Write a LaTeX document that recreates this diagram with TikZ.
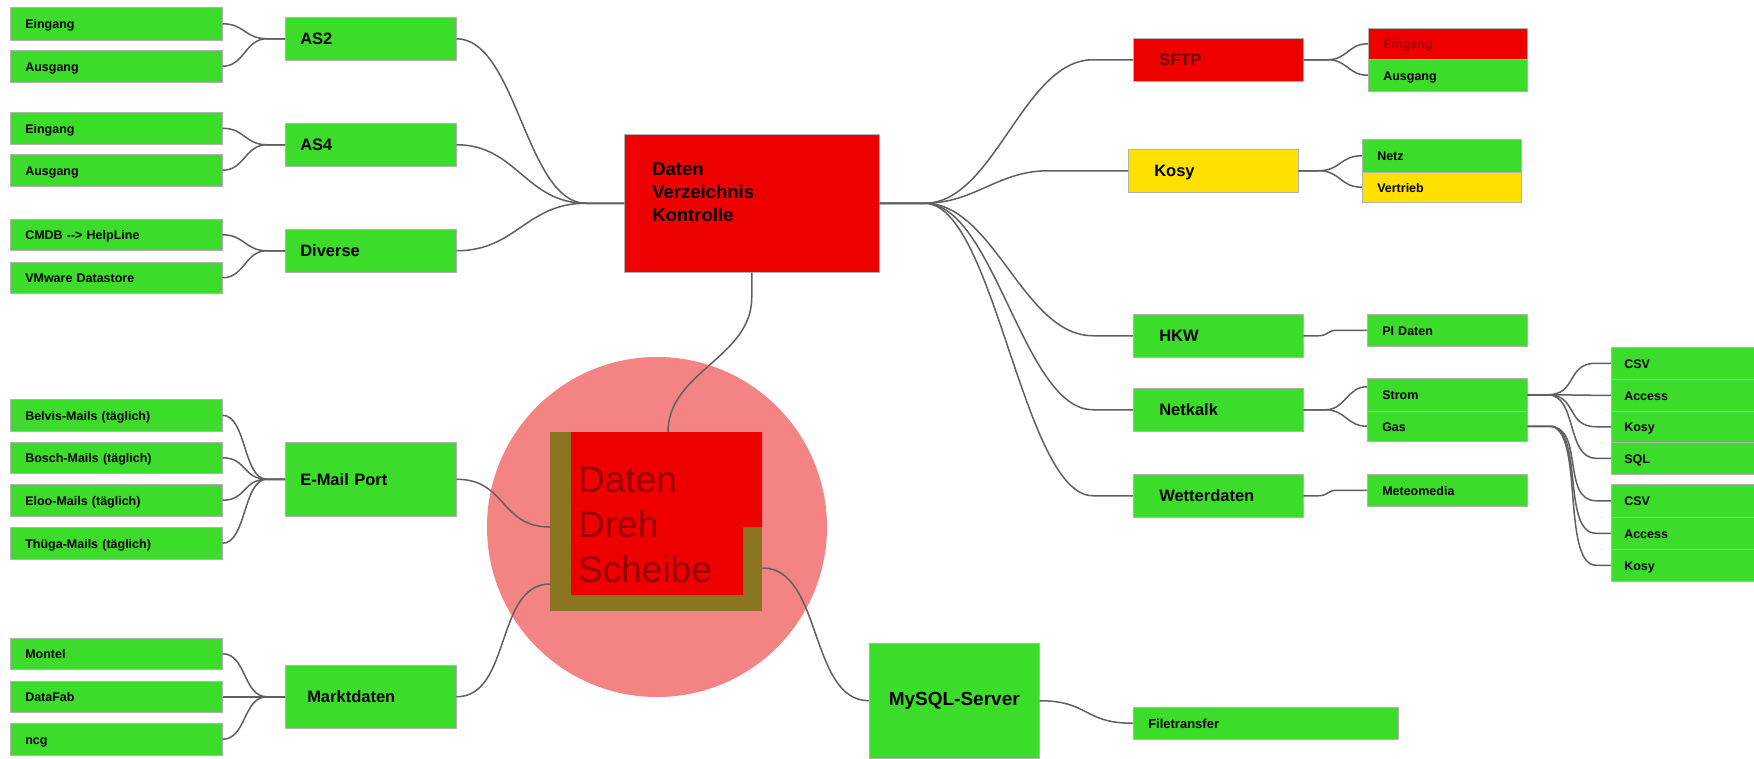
\documentclass[tikz,border=0pt]{standalone}
\usepackage{fontspec}
\setmainfont{Liberation Sans}
\usetikzlibrary{positioning}
\definecolor{Gruen}{HTML}{3CDC2A}
\definecolor{Rot}{HTML}{EE0000}
\definecolor{Gelb}{HTML}{FFE100}
\definecolor{Rosa}{HTML}{F48484}
\definecolor{Oliv}{HTML}{8A7520}
\definecolor{DunkelRot}{HTML}{960000}
\definecolor{Braun}{HTML}{6A0000}
\definecolor{Linie}{HTML}{606060}

\tikzset{
    kasten/.style={
        draw=black!30,
        line width=0.5pt,
        anchor=north west,
        inner ysep=0pt,
        align=left
    },
    blatt/.style={
        kasten,
        fill=Gruen,
        text width=#1,
        inner xsep=15pt,
        minimum height=32pt,
        text height=13pt,
        text depth=3pt,
        font=\fontsize{12.5}{14}\selectfont\bfseries
    },
    blatt/.default=182pt,
    zweig/.style={
        kasten,
        fill=Gruen,
        text width=#1,
        inner xsep=15pt,
        minimum height=43pt,
        text height=16pt,
        text depth=4pt,
        font=\fontsize{16.5}{19}\selectfont\bfseries
    },
    zweig/.default=141pt,
    kante/.style={
        draw=Linie,
        line width=1.5pt
    }
}

\begin{document}
\begin{tikzpicture}[x=1pt, y=-1pt]
    \useasboundingbox (0,0) rectangle (1754,758);
    \clip (0,0) rectangle (1754,758);
    \fill[white] (0,0) rectangle (1754,758);

    % Scheibe im Hintergrund
    \node[circle, fill=Rosa, minimum size=340pt, inner sep=0pt] (scheibe) at (657,527) {};

    % Zentrale Knoten
    \node[kasten, fill=Rot, text width=199pt, inner xsep=28pt, minimum height=138pt,
          font=\fontsize{18.5}{23}\selectfont\bfseries] (dvk) at (624,134)
          {Daten\\Verzeichnis\\Kontrolle\\\mbox{}};
    \node[kasten, fill=Oliv, draw=none, minimum width=212pt, minimum height=179pt,
          inner sep=0pt] (dds) at (550,432) {};
    \fill[Rot] (571,432) -- (762,432) -- (762,527) -- (743,527) -- (743,595) -- (571,595) -- cycle;
    \node[anchor=north west, inner sep=0pt, align=left, text=DunkelRot,
          font=\fontsize{37}{45}\selectfont] (ddstext) at (578,467) {Daten\\Dreh\\Scheibe};
    \node[kasten, fill=Gruen, text width=140pt, inner xsep=15pt, minimum height=115pt,
          align=center, font=\fontsize{19}{22}\selectfont\bfseries] (mysql) at (869,643) {MySQL-Server};
    \node[blatt=235pt, font=\fontsize{13}{15}\selectfont\bfseries] (filetr) at (1133,707) {Filetransfer};

    % linke Seite
    \node[zweig] (as2) at (285,17) {AS2};
    \node[zweig] (as4) at (285,123) {AS4};
    \node[zweig] (diverse) at (285,229) {Diverse};
    \node[zweig, minimum height=74pt] (email) at (285,442) {E-Mail Port};
    \node[zweig=127pt, inner xsep=22pt, minimum height=63pt] (markt) at (285,665) {Marktdaten};

    \node[blatt, minimum height=33pt] (as2ein) at (10,7) {Eingang};
    \node[blatt] (as2aus) at (10,50) {Ausgang};
    \node[blatt] (as4ein) at (10,112) {Eingang};
    \node[blatt] (as4aus) at (10,154) {Ausgang};
    \node[blatt, minimum height=31pt] (cmdb) at (10,219) {CMDB -{}-> HelpLine};
    \node[blatt, minimum height=31pt] (vmware) at (10,262) {VMware Datastore};
    \node[blatt] (belvis) at (10,399) {Belvis-Mails (täglich)};
    \node[blatt, minimum height=31pt] (bosch) at (10,442) {Bosch-Mails (täglich)};
    \node[blatt] (eloo) at (10,484) {Eloo-Mails (täglich)};
    \node[blatt] (thuega) at (10,527) {Thüga-Mails (täglich)};
    \node[blatt, minimum height=31pt] (montel) at (10,638) {Montel};
    \node[blatt, minimum height=31pt] (datafab) at (10,681) {DataFab};
    \node[blatt] (ncg) at (10,723) {ncg};

    % rechte Seite
    \node[zweig=118pt, inner xsep=26pt, fill=Rot, text=Braun] (sftp) at (1133,38) {SFTP};
    \node[zweig=118pt, inner xsep=26pt, fill=Gelb] (kosy) at (1128,149) {Kosy};
    \node[zweig=118pt, inner xsep=26pt] (hkw) at (1133,314) {HKW};
    \node[zweig=118pt, inner xsep=26pt] (netkalk) at (1133,388) {Netkalk};
    \node[zweig=118pt, inner xsep=26pt] (wetter) at (1133,474) {Wetterdaten};

    \node[blatt=129pt, minimum height=31pt, fill=Rot, text=DunkelRot!80!Rot] (sftpein) at (1368,28) {Eingang};
    \node[blatt=129pt] (sftpaus) at (1368,59) {Ausgang};
    \node[blatt=129pt, minimum height=33pt] (netz) at (1362,139) {Netz};
    \node[blatt=129pt, minimum height=30pt, fill=Gelb] (vertrieb) at (1362,172) {Vertrieb};
    \node[blatt=130pt] (pidaten) at (1367,314) {PI Daten};
    \node[blatt=130pt, minimum height=33pt] (strom) at (1367,378) {Strom};
    \node[blatt=130pt, minimum height=30pt] (gas) at (1367,411) {Gas};
    \node[blatt=130pt] (meteo) at (1367,474) {Meteomedia};

    \node[blatt=134pt, inner xsep=13pt] (csv1) at (1611,347) {CSV};
    \node[blatt=134pt, inner xsep=13pt] (access1) at (1611,379) {Access};
    \node[blatt=134pt, inner xsep=13pt, minimum height=31pt] (kosy1) at (1611,411) {Kosy};
    \node[blatt=134pt, inner xsep=13pt] (sql) at (1611,442) {SQL};
    \node[blatt=134pt, inner xsep=13pt, minimum height=33pt] (csv2) at (1611,484) {CSV};
    \node[blatt=134pt, inner xsep=13pt] (access2) at (1611,517) {Access};
    \node[blatt=134pt, inner xsep=13pt] (kosy2) at (1611,549) {Kosy};

    % Verbindungen links
    \foreach \b in {as2ein,as2aus}
        \draw[kante] (as2.west) -- ++(-18,0) .. controls +(-22,0) and +(22,0) .. (\b.east);
    \foreach \b in {as4ein,as4aus}
        \draw[kante] (as4.west) -- ++(-18,0) .. controls +(-22,0) and +(22,0) .. (\b.east);
    \foreach \b in {cmdb,vmware}
        \draw[kante] (diverse.west) -- ++(-18,0) .. controls +(-22,0) and +(22,0) .. (\b.east);
    \foreach \b in {belvis,bosch,eloo,thuega}
        \draw[kante] (email.west) -- ++(-18,0) .. controls +(-24,0) and +(24,0) .. (\b.east);
    \foreach \b in {montel,datafab,ncg}
        \draw[kante] (markt.west) -- ++(-18,0) .. controls +(-24,0) and +(24,0) .. (\b.east);
    \foreach \z in {as2,as4,diverse}
        \draw[kante] (dvk.west) -- ++(-38,0) .. controls +(-60,0) and +(60,0) .. (\z.east);

    % Verbindungen Mitte
    \draw[kante] (dvk.south) -- ++(0,25) .. controls +(0,60) and +(0,-60) .. (dds.north -| 668,0);
    \draw[kante] (email.east) .. controls +(50,0) and +(-50,0) .. (dds.west |- 0,527);
    \draw[kante] (markt.east) .. controls +(55,0) and +(-55,0) .. (dds.west |- 0,584);
    \draw[kante] (dds.east |- 0,568) .. controls +(60,0) and +(-60,0) .. (mysql.west);
    \draw[kante] (mysql.east) .. controls +(50,0) and +(-50,0) .. (filetr.west);

    % Verbindungen rechts
    \foreach \z in {sftp,hkw,netkalk,wetter}
        \draw[kante] (dvk.east) -- ++(45,0) .. controls +(70,0) and +(-70,0) .. ([xshift=-40pt]\z.west) -- (\z.west);
    \draw[kante] (dvk.east) -- ++(45,0) .. controls +(50,0) and +(-50,0) .. ([xshift=-80pt]kosy.west) -- (kosy.west);
    \foreach \b in {sftpein,sftpaus}
        \draw[kante] (sftp.east) -- ++(24,0) .. controls +(20,0) and +(-20,0) .. (\b.west);
    \foreach \b in {netz,vertrieb}
        \draw[kante] (kosy.east) -- ++(20,0) .. controls +(22,0) and +(-22,0) .. (\b.west);
    \draw[kante] (netkalk.east) -- ++(22,0) .. controls +(20,0) and +(-20,0) .. ([yshift=8pt]strom.west);
    \draw[kante] (netkalk.east) -- ++(22,0) .. controls +(20,0) and +(-20,0) .. (gas.west);
    \draw[kante] (hkw.east) -- ++(15,0) .. controls +(10,0) and +(-10,0) .. ([xshift=-30pt]pidaten.west) -- (pidaten.west);
    \draw[kante] (wetter.east) -- ++(15,0) .. controls +(10,0) and +(-10,0) .. ([xshift=-30pt]meteo.west) -- (meteo.west);
    \foreach \b in {csv1,access1,kosy1,sql}
        \draw[kante] (strom.east) -- ++(20,0) .. controls +(30,0) and +(-30,0) .. ([xshift=-15pt]\b.west) -- (\b.west);
    \foreach \b in {csv2,access2,kosy2}
        \draw[kante] (gas.east) -- ++(22,0) .. controls +(35,0) and +(-35,0) .. ([xshift=-15pt]\b.west) -- (\b.west);
\end{tikzpicture}
\end{document}
